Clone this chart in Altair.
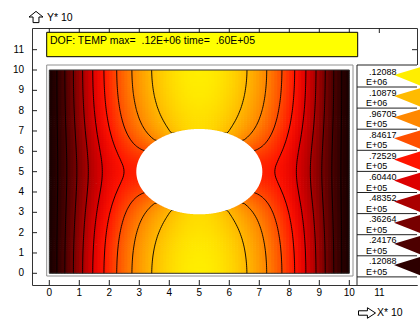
import numpy as np
import pandas as pd
import altair as alt

# ---------------- values ----------------
plate_x = [0.0, 10.0]
plate_y = [0.0, 10.0]
hole_center = [5.0, 5.0]
hole_radius = [2.1]
temp_max = [120880.0]
contour_levels = [12088, 24176, 36264, 48352, 60440, 72529, 84617, 96705, 108790]
legend_mant = [".12088", ".10879", ".96705", ".84617", ".72529",
               ".60440", ".48352", ".36264", ".24176", ".12088"]
legend_exp = ["E+06", "E+06", "E+05", "E+05", "E+05",
              "E+05", "E+05", "E+05", "E+05", "E+05"]
legend_colors = ["#ffee00", "#ffbb00", "#ff8800", "#ff5000", "#ff1400",
                 "#dd0000", "#aa0000", "#770000", "#4d0000", "#2d0000"]
field_stops = [0, 12088, 24176, 36264, 48352, 60440, 72529, 84617, 96705, 108790, 120880]
field_colors = ["#180000", "#2d0000", "#4d0000", "#770000", "#aa0000", "#dd0000",
                "#ff1400", "#ff4c00", "#ff8400", "#ffb800", "#ffee00"]
x_ticks = [0, 1, 2, 3, 4, 5, 6, 7, 8, 9, 10, 11]
y_ticks = [0, 1, 2, 3, 4, 5, 6, 7, 8, 9, 10, 11]
title_text = "DOF: TEMP max=\u00a0\u00a0.12E+06 time=\u00a0\u00a0.60E+05"

# ---------------- temperature field (heat conduction, insulated hole) ----------------
n = 100
h = (plate_x[1] - plate_x[0]) / n
gx = np.linspace(plate_x[0], plate_x[1], n + 1)
gy = np.linspace(plate_y[0], plate_y[1], n + 1)
GX, GY = np.meshgrid(gx, gy)
R = hole_radius[0]
hole = (GX - hole_center[0]) ** 2 + (GY - hole_center[1]) ** 2 < R ** 2
mat = ~hole
M = mat.astype(float)
T = GX * (plate_x[1] - GX) / 2.0 * M
fixed = (np.abs(GX - plate_x[0]) < 1e-9) | (np.abs(GX - plate_x[1]) < 1e-9)
active = mat & ~fixed
parity = np.add.outer(np.arange(n + 1), np.arange(n + 1)) % 2
w = 1.9
for it in range(900):
    for p in (0, 1):
        Tp = np.pad(T * M, 1)
        Mp = np.pad(M, 1)
        s = Tp[1:-1, :-2] + Tp[1:-1, 2:] + Tp[:-2, 1:-1] + Tp[2:, 1:-1]
        c = Mp[1:-1, :-2] + Mp[1:-1, 2:] + Mp[:-2, 1:-1] + Mp[2:, 1:-1]
        Tn = (s + h * h) / np.maximum(c, 1)
        upd = active & (parity == p)
        T[upd] += w * (Tn[upd] - T[upd])
# smooth extension into the hole (hidden, keeps contours continuous)
for it in range(600):
    Tp = np.pad(T, 1, mode="edge")
    avg = (Tp[1:-1, :-2] + Tp[1:-1, 2:] + Tp[:-2, 1:-1] + Tp[2:, 1:-1]) / 4
    T[hole] = avg[hole]
T = T * temp_max[0] / T[mat].max()

# cells
cv = (T[:-1, :-1] + T[:-1, 1:] + T[1:, :-1] + T[1:, 1:]) / 4
CX, CY = np.meshgrid(gx[:-1], gy[:-1])
inside = hole[:-1, :-1] & hole[:-1, 1:] & hole[1:, :-1] & hole[1:, 1:]
keep = ~inside.ravel()
ov = 0.035
cells = pd.DataFrame({
    "x": np.round(CX.ravel(), 3),
    "x2": np.round(np.minimum(CX.ravel() + h + ov, plate_x[1]), 3),
    "y": np.round(CY.ravel(), 3),
    "y2": np.round(np.minimum(CY.ravel() + h + ov, plate_y[1]), 3),
    "v": np.round(cv.ravel(), 0),
})[keep]

# contour segments (marching squares)
segs = []
for L in contour_levels:
    for j in range(n):
        for i in range(n):
            a = T[j, i]; b = T[j, i + 1]; cc = T[j + 1, i + 1]; d = T[j + 1, i]
            lo = min(a, b, cc, d); hi = max(a, b, cc, d)
            if not (lo < L < hi):
                continue
            pts = []
            if (a - L) * (b - L) < 0:
                t = (L - a) / (b - a); pts.append((gx[i] + t * h, gy[j]))
            if (b - L) * (cc - L) < 0:
                t = (L - b) / (cc - b); pts.append((gx[i + 1], gy[j] + t * h))
            if (d - L) * (cc - L) < 0:
                t = (L - d) / (cc - d); pts.append((gx[i] + t * h, gy[j + 1]))
            if (a - L) * (d - L) < 0:
                t = (L - a) / (d - a); pts.append((gx[i], gy[j] + t * h))
            if len(pts) >= 2:
                segs.append((pts[0][0], pts[0][1], pts[1][0], pts[1][1]))
            if len(pts) == 4:
                segs.append((pts[2][0], pts[2][1], pts[3][0], pts[3][1]))
seg_df = pd.DataFrame(np.round(np.array(segs), 3), columns=["x", "y", "x2", "y2"])

# hole outline (white)
ang = np.linspace(np.pi, 0, 241)
hx = hole_center[0] + R * np.cos(ang)
hdy = R * np.sin(ang)
hole_df = pd.DataFrame({"hx": hx, "hy1": hole_center[1] - hdy, "hy2": hole_center[1] + hdy})

# ---------------- layout ----------------
W, H = 385, 257
X0, X1 = -0.5767, 12.256
Y0, Y1 = -0.575, 12.066
xsc = alt.Scale(domain=[X0, X1], nice=False, zero=False)
ysc = alt.Scale(domain=[Y0, Y1], nice=False, zero=False)
FONT = "Liberation Sans"
TICK = "#222222"

def X(f):
    return alt.X(f, scale=xsc, axis=None)

def Y(f):
    return alt.Y(f, scale=ysc, axis=None)

field = alt.Chart(cells).mark_rect(strokeWidth=0).encode(
    x=X("x:Q"), x2="x2:Q", y=Y("y:Q"), y2="y2:Q",
    color=alt.Color("v:Q", scale=alt.Scale(domain=field_stops, range=field_colors,
                                           interpolate="rgb", clamp=True), legend=None),
)

contours = alt.Chart(seg_df).mark_rule(color="#000000", strokeWidth=0.9).encode(
    x=X("x:Q"), y=Y("y:Q"), x2="x2:Q", y2="y2:Q")

hole_area = alt.Chart(hole_df).mark_area(color="white", opacity=1).encode(
    x=X("hx:Q"), y=Y("hy1:Q"), y2="hy2:Q")

plate_df = pd.DataFrame({"x": [plate_x[0]], "x2": [plate_x[1]], "y": [plate_y[0]], "y2": [plate_y[1]]})
plate_border = alt.Chart(plate_df).mark_rect(fillOpacity=0, stroke="#333333", strokeWidth=1).encode(
    x=X("x:Q"), x2="x2:Q", y=Y("y:Q"), y2="y2:Q")

one = pd.DataFrame({"t": [title_text]})
outer_frame = alt.Chart(one).mark_rect(fillOpacity=0, stroke="#909090", strokeWidth=1).encode(
    x=alt.value(14.7), x2=alt.value(321), y=alt.value(37), y2=alt.value(248))

title_box = alt.Chart(one).mark_rect(fill="#ffff00", stroke="#000000", strokeWidth=1).encode(
    x=alt.value(14.7), x2=alt.value(325.7), y=alt.value(4.3), y2=alt.value(28.7))
title_txt = alt.Chart(one).mark_text(align="left", baseline="middle", font=FONT,
                                     fontSize=10.5, color="black").encode(
    x=alt.value(18), y=alt.value(12.5), text="t:N")

# ticks on all four sides (pointing inwards) and labels on bottom / left
tick_df = pd.DataFrame({"t": x_ticks})
ytick_df = pd.DataFrame({"t": y_ticks})
top_ticks = alt.Chart(tick_df).mark_rule(color=TICK, strokeWidth=1).encode(
    x=X("t:Q"), y=alt.value(0), y2=alt.value(5))
bottom_ticks = alt.Chart(tick_df).mark_rule(color=TICK, strokeWidth=1).encode(
    x=X("t:Q"), y=alt.value(H), y2=alt.value(H - 5))
bottom_labels = alt.Chart(tick_df).mark_text(baseline="top", align="center", font=FONT,
                                             fontSize=10, color="black").encode(
    x=X("t:Q"), y=alt.value(H + 3), text=alt.Text("t:Q", format="d"))
left_ticks = alt.Chart(ytick_df).mark_rule(color=TICK, strokeWidth=1).encode(
    y=Y("t:Q"), x=alt.value(0), x2=alt.value(5))
left_labels = alt.Chart(ytick_df).mark_text(baseline="middle", align="right", font=FONT,
                                            fontSize=10, color="black").encode(
    y=Y("t:Q"), x=alt.value(-8), text=alt.Text("t:Q", format="d"))
right_ticks = alt.Chart(ytick_df).mark_rule(color=TICK, strokeWidth=1).encode(
    y=Y("t:Q"), x=alt.value(W), x2=alt.value(W - 5))

# legend
LEG_X = 325
leg_top = 37
sep0 = 59
step = 21.1
leg = pd.DataFrame({
    "mant": legend_mant, "exp": legend_exp, "col": legend_colors,
    "k": list(range(len(legend_mant)))})
leg["sep"] = sep0 + step * leg["k"]
leg["y1"] = leg["sep"] - 15.5
leg["y2"] = leg["sep"] - 5
leg["ty"] = leg["sep"] - 10.5

leg_bg = alt.Chart(one).mark_rect(fill="white", strokeWidth=0).encode(
    x=alt.value(LEG_X), x2=alt.value(W + 3), y=alt.value(leg_top), y2=alt.value(H))
leg_vline = alt.Chart(one).mark_rule(color=TICK, strokeWidth=1).encode(
    x=alt.value(LEG_X), y=alt.value(leg_top), y2=alt.value(H))
leg_top_line = alt.Chart(one).mark_rule(color=TICK, strokeWidth=1).encode(
    x=alt.value(LEG_X), x2=alt.value(W), y=alt.value(leg_top))
leg_seps = alt.Chart(leg).mark_rule(color=TICK, strokeWidth=1).encode(
    y=alt.Y("sep:Q", scale=None), x=alt.value(LEG_X), x2=alt.value(W))
tri_path = "M -1 -0.1 L 1 -0.7 L 1 0.7 Z"
leg_tri = alt.Chart(leg).mark_point(shape=tri_path, filled=True, opacity=1, size=900, strokeWidth=0).encode(
    x=alt.value(W - 8), y=alt.Y("ty:Q", scale=None), fill=alt.Fill("col:N", scale=None))
leg_t1 = alt.Chart(leg).mark_text(align="left", baseline="middle", font=FONT, fontSize=9, color="black").encode(
    x=alt.value(LEG_X + 12), y=alt.Y("y1:Q", scale=None), text="mant:N")
leg_t2 = alt.Chart(leg).mark_text(align="left", baseline="middle", font=FONT, fontSize=9, color="black").encode(
    x=alt.value(LEG_X + 9), y=alt.Y("y2:Q", scale=None), text="exp:N")

# outlined arrows + axis multiplier labels
lab_df = pd.DataFrame({"lab": ["Y* 10", "X* 10"], "lx": [15, 345], "ly": [-10, 285]})
up_path = "M 0 -0.8 L 1 0 L 0.42 0 L 0.42 0.8 L -0.42 0.8 L -0.42 0 L -1 0 Z"
right_path = "M 1 0 L 0.05 -0.62 L 0.05 -0.26 L -1 -0.26 L -1 0.26 L 0.05 0.26 L 0.05 0.62 Z"
arr_up = alt.Chart(one).mark_point(shape=up_path, filled=False, size=196, stroke="black",
                                   strokeWidth=1, opacity=1).encode(
    x=alt.value(4), y=alt.value(-11))
arr_right = alt.Chart(one).mark_point(shape=right_path, filled=False, size=289, stroke="black",
                                      strokeWidth=1, opacity=1).encode(
    x=alt.value(335), y=alt.value(285))
axlabs = alt.Chart(lab_df).mark_text(align="left", baseline="middle", font=FONT,
                                     fontSize=10.5, color="black").encode(
    x=alt.X("lx:Q", scale=None), y=alt.Y("ly:Q", scale=None), text="lab:N")

chart = alt.layer(
    field, contours, hole_area, plate_border, outer_frame,
    top_ticks, bottom_ticks, bottom_labels, left_ticks, left_labels, right_ticks,
    title_box, title_txt, leg_bg, leg_seps, leg_tri, leg_vline, leg_top_line, leg_t1, leg_t2,
    arr_up, arr_right, axlabs,
).properties(
    width=W, height=H,
    autosize=alt.AutoSizeParams(type="none"),
    padding={"left": 32, "top": 28, "right": 3, "bottom": 35},
    background="white",
).configure_view(stroke="#333333", strokeWidth=1)

chart.save("out.html", embed_options={"renderer": "svg", "actions": False})
